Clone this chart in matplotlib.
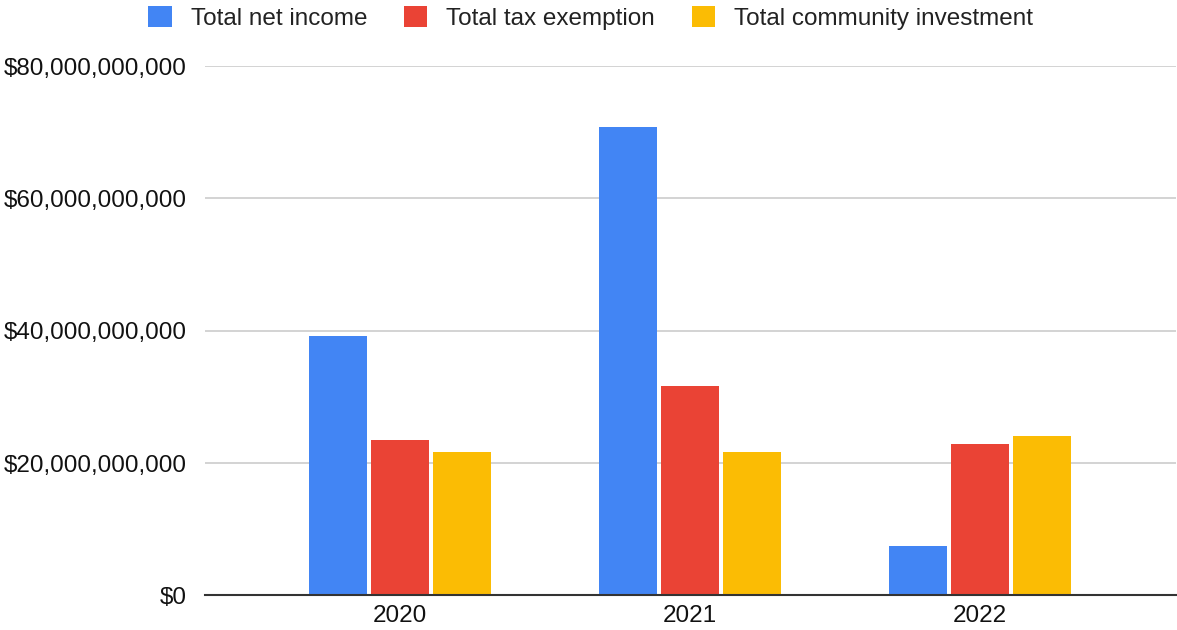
import matplotlib
matplotlib.use("Agg")
import matplotlib.pyplot as plt
import numpy as np
from matplotlib.ticker import FuncFormatter

years = ["2020", "2021", "2022"]
series_names = ["Total net income", "Total tax exemption", "Total community investment"]
net_income = [39.2e9, 70.8e9, 7.5e9]
tax_exemption = [23.5e9, 31.7e9, 22.9e9]
community_investment = [21.6e9, 21.6e9, 24.1e9]
colors = ["#4285F4", "#EA4335", "#FBBC04"]
yticks = [0, 20e9, 40e9, 60e9, 80e9]

plt.rcParams['font.family'] = ['Liberation Sans', 'DejaVu Sans']

fig = plt.figure(figsize=(11.77, 6.30), dpi=100)
ax = fig.add_axes([205/1177, 1 - 595.4/630, (1176-205)/1177, (595.4-66)/630])

x = np.arange(len(years))
pitch = 0.215
width = 0.2
for i, (vals, name, c) in enumerate(zip([net_income, tax_exemption, community_investment], series_names, colors)):
    ax.bar(x + (i - 1) * pitch, vals, width=width, color=c, label=name, zorder=3)

ax.set_xlim(-0.672, 2.676)
ax.set_ylim(0, 80e9)
ax.set_yticks(yticks)
ax.yaxis.set_major_formatter(FuncFormatter(lambda v, p: "${:,.0f}".format(v)))
ax.set_xticks(x)
ax.set_xticklabels(years)
ax.grid(axis='y', color='#cccccc', linewidth=1.2, zorder=0)
for s in ['top', 'right', 'left']:
    ax.spines[s].set_visible(False)
ax.spines['bottom'].set_color('#333333')
ax.spines['bottom'].set_linewidth(1.5)
ax.spines['bottom'].set_zorder(4)
ax.tick_params(axis='both', length=0, labelsize=17.5, colors='#111111')
ax.tick_params(axis='y', pad=13)
ax.tick_params(axis='x', pad=7)

fig.legend(loc='upper center', bbox_to_anchor=(0.502, 1.025), ncol=3, frameon=False,
           fontsize=17.5, handlelength=0.95, handleheight=0.95, handletextpad=0.8,
           columnspacing=1.5, labelcolor='#222222')

fig.savefig("out.png", dpi=100)
